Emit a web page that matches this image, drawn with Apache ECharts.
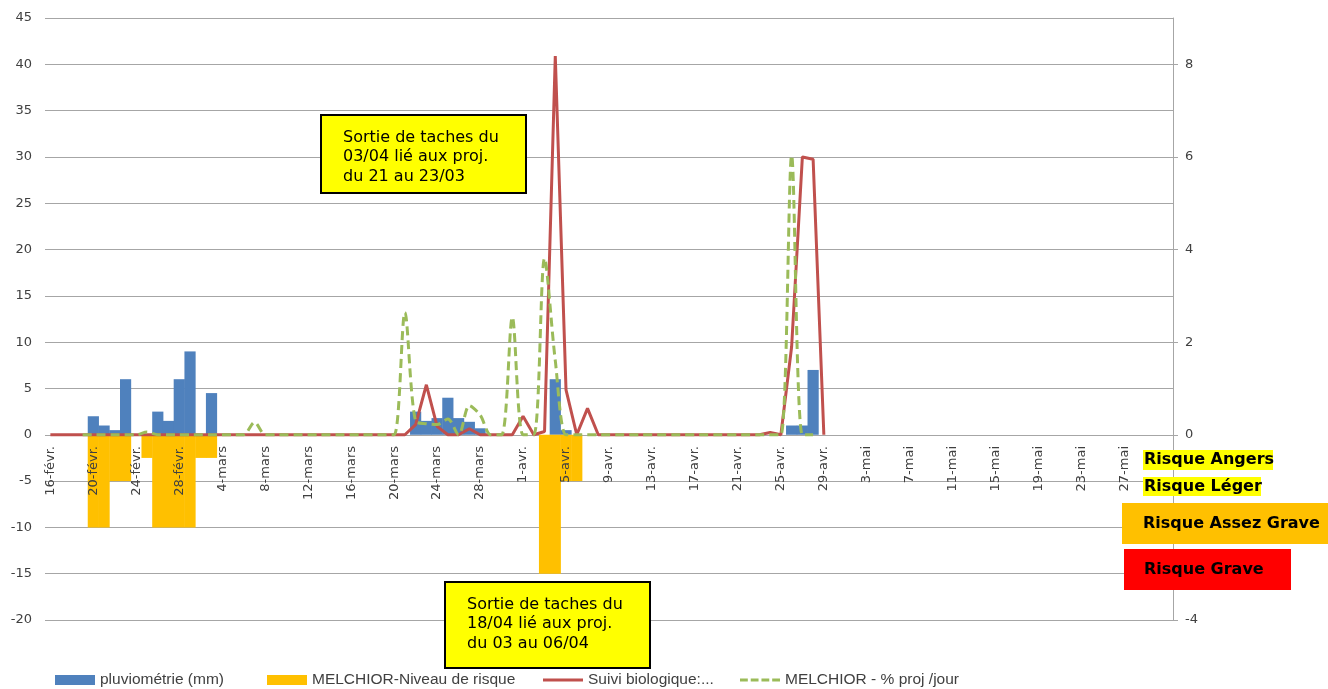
<!DOCTYPE html>
<html><head><meta charset="utf-8">
<script src="https://cdn.jsdelivr.net/npm/echarts@6/dist/echarts.min.js"></script>
<style>html,body{margin:0;padding:0;background:#fff;}#c{width:1328px;height:689px;}</style>
</head><body><div id="c"></div>
<script>
const categories = [
'16-févr.','17-févr.','18-févr.','19-févr.','20-févr.','21-févr.','22-févr.','23-févr.','24-févr.','25-févr.','26-févr.','27-févr.','28-févr.',
'1-mars','2-mars','3-mars','4-mars','5-mars','6-mars','7-mars','8-mars','9-mars','10-mars','11-mars','12-mars','13-mars','14-mars','15-mars','16-mars','17-mars','18-mars','19-mars','20-mars','21-mars','22-mars','23-mars','24-mars','25-mars','26-mars','27-mars','28-mars','29-mars','30-mars','31-mars',
'1-avr.','2-avr.','3-avr.','4-avr.','5-avr.','6-avr.','7-avr.','8-avr.','9-avr.','10-avr.','11-avr.','12-avr.','13-avr.','14-avr.','15-avr.','16-avr.','17-avr.','18-avr.','19-avr.','20-avr.','21-avr.','22-avr.','23-avr.','24-avr.','25-avr.','26-avr.','27-avr.','28-avr.','29-avr.','30-avr.',
'1-mai','2-mai','3-mai','4-mai','5-mai','6-mai','7-mai','8-mai','9-mai','10-mai','11-mai','12-mai','13-mai','14-mai','15-mai','16-mai','17-mai','18-mai','19-mai','20-mai','21-mai','22-mai','23-mai','24-mai','25-mai','26-mai','27-mai','28-mai','29-mai','30-mai','31-mai'
];

// pluviométrie (mm) - left axis
const rain = [
['20-févr.',2],['21-févr.',1],['22-févr.',0.5],['23-févr.',6],['26-févr.',2.5],['27-févr.',1.5],['28-févr.',6],['1-mars',9],['3-mars',4.5],
['22-mars',2.5],['23-mars',1.5],['24-mars',1.8],['25-mars',4],['26-mars',1.8],['27-mars',1.4],['28-mars',0.7],
['4-avr.',6],['5-avr.',0.5],['26-avr.',1],['27-avr.',1],['28-avr.',7]
];

// MELCHIOR-Niveau de risque - left axis
const risk = [
['20-févr.',-10],['21-févr.',-10],['22-févr.',-5],['23-févr.',-5],['25-févr.',-2.5],['26-févr.',-10],['27-févr.',-10],['28-févr.',-10],['1-mars',-10],['2-mars',-2.5],['3-mars',-2.5],
['3-avr.',-15],['4-avr.',-15],['5-avr.',-5],['6-avr.',-5]
];

// Suivi biologique - right axis (16-févr. .. 29-avr.)
const suivi = [
0,0,0,0,0,0,0,0,0,0,0,0,0,
0,0,0,0,0,0,0,0,0,0,0,0,0,0,0,0,0,0,0,0,0,0.22,1.08,0.18,0,0,0.13,0,0,0,0,
0.4,0,0.07,8.18,0.97,0,0.57,0,0,0,0,0,0,0,0,0,0,0,0,0,0,0,0,0.05,0,1.9,6.0,5.95,0
];

// MELCHIOR - % proj /jour - right axis (16-févr. .. 28-avr.)
const proj = [
null,null,null,0,0,0,0,0,0,0.06,0,0,0,
0,0,0,0,0,0,0.27,0,0,0,0,0,0,0,0,0,0,0,0,0,2.64,0.29,0.24,0.22,0.34,0,0.63,0.43,0,0,2.54,
0,0,3.81,1.6,0,0,0,0,0,0,0,0,0,0,0,0,0,0,0,0,0,0,0,0,0,6.03,0,0
];

const leftTicks = {min:-20, max:45, interval:5};
const rightTicks = {min:-4, max:9, interval:2};

const chart = echarts.init(document.getElementById('c'), null, {renderer:'canvas'});
const legTxt = {fontFamily:'Liberation Sans', fontSize:15.5, color:'#404040'};
function leg(name, left, icon, h){
  return {data:[{name:name, icon:icon}], left:left, top:672, itemWidth:40, itemHeight:h, selectedMode:false, textStyle:legTxt, padding:0};
}
function box(x,y,w,h,lines){
  return [
    {type:'rect', shape:{x:x,y:y,width:w,height:h}, style:{fill:'#FFFF00', stroke:'#000', lineWidth:2}, z:100},
    {type:'text', x:x+22, y:y+13, style:{text:lines.join('\n'), font:'16px "DejaVu Sans"', fill:'#000', lineHeight:19.5}, z:101}
  ];
}
function tag(x,y,w,h,color,text,tx){
  return [
    {type:'rect', shape:{x:x,y:y,width:w,height:h}, style:{fill:color}, z:100},
    {type:'text', x:tx, y:y+h/2, style:{text:text, font:'bold 16px "DejaVu Sans"', fill:'#000', verticalAlign:'middle'}, z:101}
  ];
}
const dashIcon = 'path://M0,0h8v3h-8zM11,0h8v3h-8zM22,0h8v3h-8zM33,0h8v3h-8z';
chart.setOption({
  animation:false,
  grid:[
    {left:45, right:155, top:18, bottom:69, containLabel:false},
    {left:45, right:155, top:18, bottom:254, containLabel:false}
  ],
  legend:[
    leg('pluviométrie (mm)',55,'rect',10),
    leg('MELCHIOR-Niveau de risque',267,'rect',10),
    leg('Suivi biologique:...',543,'rect',3),
    leg('MELCHIOR - % proj /jour',740,dashIcon,3)
  ],
  xAxis:[{
    type:'category', data:categories, boundaryGap:true, gridIndex:0,
    axisLine:{show:false}, axisTick:{show:false}, axisLabel:{show:false}, splitLine:{show:false}
  },{
    type:'category', data:categories, boundaryGap:true, gridIndex:1, z:10, position:'bottom',
    axisLine:{show:false}, axisTick:{show:false}, splitLine:{show:false},
    axisLabel:{rotate:90, margin:11, fontFamily:'DejaVu Sans', fontSize:13, color:'#404040',
      interval:function(i){return i%4===0 && i<104;}}
  }],
  yAxis:[
    {type:'value', gridIndex:0, position:'left', min:leftTicks.min, max:leftTicks.max, interval:leftTicks.interval,
     axisLine:{show:false}, axisTick:{show:false},
     axisLabel:{margin:13, fontFamily:'DejaVu Sans', fontSize:13, color:'#404040'},
     splitLine:{show:true, lineStyle:{color:'#A6A6A6', width:1}}},
    {type:'value', gridIndex:0, position:'right', min:rightTicks.min, max:rightTicks.max, interval:rightTicks.interval,
     axisLine:{show:true, onZero:false, lineStyle:{color:'#A6A6A6'}}, axisTick:{show:true, length:5, lineStyle:{color:'#A6A6A6'}},
     axisLabel:{margin:12, showMaxLabel:false, fontFamily:'DejaVu Sans', fontSize:13, color:'#404040'},
     splitLine:{show:false}},
    {type:'value', gridIndex:1, show:false, min:0, max:1}
  ],
  series:[
    {name:'pluviométrie (mm)', type:'bar', xAxisIndex:0, yAxisIndex:0, data:rain, barWidth:11.2, barGap:'-100%', itemStyle:{color:'#4F81BD'}},
    {name:'MELCHIOR-Niveau de risque', type:'bar', xAxisIndex:0, yAxisIndex:0, data:risk, barWidth:11.2, barGap:'-100%', itemStyle:{color:'#FFC000'}},
    {name:'Suivi biologique:...', type:'line', xAxisIndex:0, yAxisIndex:1, data:suivi, symbol:'none', lineStyle:{color:'#C0504D', width:3}, itemStyle:{color:'#C0504D'}},
    {name:'MELCHIOR - % proj /jour', type:'line', xAxisIndex:0, yAxisIndex:1, data:proj, symbol:'none', smooth:0.3, lineStyle:{color:'#9BBB59', width:3, type:[9,5]}, itemStyle:{color:'#9BBB59'}}
  ],
  graphic:[].concat(
    box(321,115,205,78,['Sortie de taches du','03/04 lié aux proj.','du 21 au 23/03']),
    box(445,582,205,86,['Sortie de taches du','18/04 lié aux proj.','du 03 au 06/04']),
    tag(1143,450,130,20,'#FFFF00','Risque Angers',1144),
    tag(1143,477,118,19,'#FFFF00','Risque Léger',1144),
    tag(1122,503,206,41,'#FFC000','Risque Assez Grave',1143),
    tag(1124,549,167,41,'#FF0000','Risque Grave',1144)
  )
});
</script></body></html>
